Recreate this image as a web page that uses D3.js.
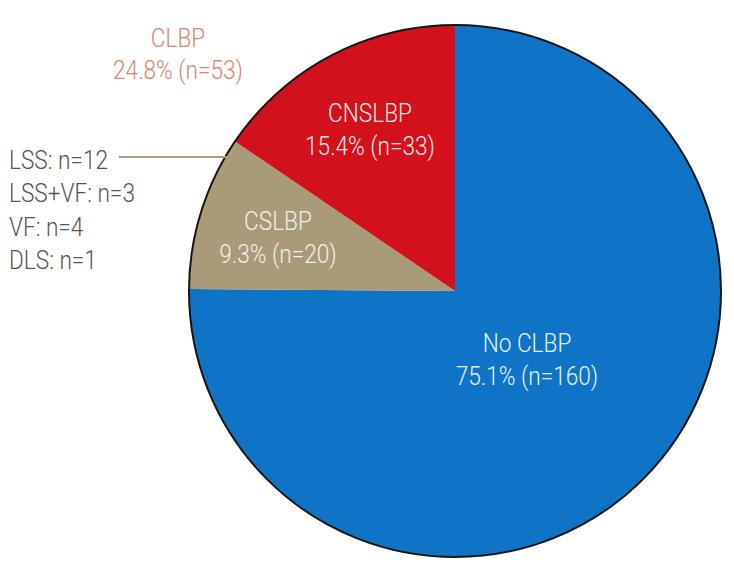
<!DOCTYPE html>
<html><head><meta charset="utf-8">
<script src="https://cdn.jsdelivr.net/npm/d3@7"></script>
<style>
html,body{margin:0;padding:0;background:#fff;}
text{font-family:"Roboto","Liberation Sans",sans-serif;font-weight:300;}
</style></head>
<body>
<svg id="chart" width="734" height="565"></svg>
<script>
const categories = ["No CLBP", "CSLBP", "CNSLBP"];
const counts = [160, 20, 33];
const percents = ["75.1%", "9.3%", "15.4%"];
const colors = ["#0f73c6", "#a99a79", "#d2111d"];
const textColors = ["#e6f0fb", "#f3efe3", "#fde6e6"];
const groupLabel = ["CLBP", "24.8% (n=53)"];
const subLabels = ["LSS: n=12", "LSS+VF: n=3", "VF: n=4", "DLS: n=1"];

const svg = d3.select("#chart");
const cx = 455, cy = 291, R = 266;
const SX = 0.87;
const g = svg.append("g").attr("transform", `translate(${cx},${cy})`);

const pie = d3.pie().sort(null).value(d => d.v).startAngle(0).endAngle(2 * Math.PI);
const data = categories.map((c, i) => ({ c, v: counts[i], p: percents[i], i }));
const arcs = pie(data);
const arc = d3.arc().innerRadius(0).outerRadius(R);

g.selectAll("path.slice").data(arcs).join("path")
  .attr("class", "slice")
  .attr("d", arc)
  .attr("fill", d => colors[d.data.i]);

g.append("circle").attr("r", R).attr("fill", "none").attr("stroke", "#161616").attr("stroke-width", 2);

function block(parent, x, y, lines, anchor, color, step) {
  const t = parent.append("text")
    .attr("transform", `translate(${x},${y}) scale(${SX},1)`)
    .attr("text-anchor", anchor).attr("fill", color).attr("font-size", 26);
  lines.forEach((s, i) => t.append("tspan").attr("x", 0).attr("y", i * step).text(s));
  return t;
}

// in-slice labels (relative to pie center)
const labelPos = [[72, 61], [-177, -61], [-85, -169]];
arcs.forEach((a, k) => {
  const [x, y] = labelPos[k];
  block(g, x, y, [a.data.c, `${a.data.p} (n=${a.data.v})`], "middle", textColors[k], 33);
});

// CLBP group label
block(svg, 178, 47, groupLabel, "middle", "#e4816b", 32);

// sub labels
block(svg, 9, 169, subLabels, "start", "#555", 33.3);

// leader line into CSLBP slice
svg.append("line").attr("x1", 119).attr("x2", 228).attr("y1", 157).attr("y2", 157)
  .attr("stroke", "#a99a79").attr("stroke-width", 2);
</script>
</body></html>
